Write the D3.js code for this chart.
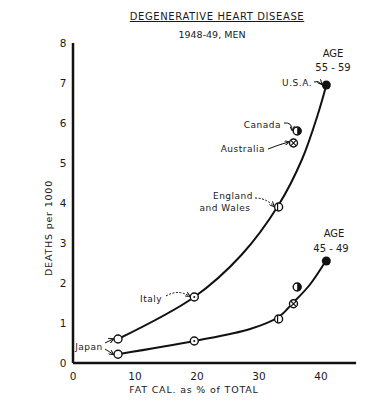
<!DOCTYPE html>
<html>
<head>
<meta charset="utf-8">
<script src="https://cdn.jsdelivr.net/npm/d3@7"></script>
<style>
  body { margin: 0; background: #fff; }
  svg text { font-family: 'DejaVu Sans', sans-serif; fill: #1a1a1a; }
</style>
</head>
<body>
<svg id="chart"></svg>
<script>
// countries and fat calories as % of total
const countries = ['Japan', 'Italy', 'England and Wales', 'Australia', 'Canada', 'U.S.A.'];
const fatPct = [7.1, 19.4, 33.0, 35.4, 36.0, 40.7];
const deaths5559 = [0.6, 1.65, 3.9, 5.5, 5.8, 6.95];
const deaths4549 = [0.22, 0.55, 1.1, 1.48, 1.9, 2.55];
const markers = ['open', 'dot', 'bar', 'cross', 'half', 'filled'];

// hand-drawn fitted curves (knots)
const curve5559 = [[7.1, 0.6], [19.4, 1.65], [27.0, 2.7], [33.0, 3.95], [36.8, 5.1], [39.3, 6.2], [40.7, 6.95]];
const curve4549 = [[7.1, 0.22], [19.4, 0.55], [28.4, 0.85], [33.0, 1.15], [35.3, 1.5], [38.0, 1.95], [40.6, 2.55]];

const xTicks = [0, 10, 20, 30, 40];
const yTicks = [0, 1, 2, 3, 4, 5, 6, 7, 8];

const width = 392, height = 400;
const svg = d3.select('#chart').attr('width', width).attr('height', height);

const x = d3.scaleLinear().domain([0, 40]).range([74, 322]);
const y = d3.scaleLinear().domain([0, 8]).range([363, 43]);

// axes
svg.append('line')
    .attr('x1', x(0) - 1).attr('x2', x(45.5))
    .attr('y1', y(0)).attr('y2', y(0))
    .attr('stroke', '#111').attr('stroke-width', 2.5);
svg.append('line')
    .attr('x1', x(0) - 1).attr('x2', x(0) - 1)
    .attr('y1', y(0)).attr('y2', y(8))
    .attr('stroke', '#111').attr('stroke-width', 2.5);

svg.append('g').selectAll('text')
    .data(xTicks)
    .enter()
    .append('text')
        .attr('x', d => x(d) - 1)
        .attr('y', y(0) + 17)
        .attr('text-anchor', 'middle')
        .style('font-size', '10.5px')
        .text(d => d);

svg.append('g').selectAll('text')
    .data(yTicks)
    .enter()
    .append('text')
        .attr('x', x(0) - 11)
        .attr('y', d => y(d) + 4)
        .attr('text-anchor', 'middle')
        .style('font-size', '10.5px')
        .text(d => d);

// titles
svg.append('text')
    .attr('x', 217).attr('y', 20)
    .attr('text-anchor', 'middle')
    .style('font-size', '10px')
    .style('letter-spacing', '0.6px')
    .style('text-decoration', 'underline')
    .text('DEGENERATIVE HEART DISEASE');
svg.append('text')
    .attr('x', 212).attr('y', 38)
    .attr('text-anchor', 'middle')
    .style('font-size', '9.5px')
    .text('1948-49, MEN');

svg.append('text')
    .attr('x', 194).attr('y', 393)
    .attr('text-anchor', 'middle')
    .style('font-size', '9.5px')
    .style('letter-spacing', '0.8px')
    .text('FAT  CAL. as % of  TOTAL');
svg.append('text')
    .attr('transform', 'translate(52,228) rotate(-90)')
    .attr('text-anchor', 'middle')
    .style('font-size', '9.5px')
    .style('letter-spacing', '0.8px')
    .text('DEATHS  per  1000');

// age labels
[['AGE', 333, 57], ['55 - 59', 333, 71], ['AGE', 334, 237], ['45 - 49', 331, 252]].forEach(([t, tx, ty]) => {
    svg.append('text')
        .attr('x', tx).attr('y', ty)
        .attr('text-anchor', 'middle')
        .style('font-size', '10px')
        .text(t);
});

// fitted curves
const line = d3.line()
    .x(d => x(d[0]))
    .y(d => y(d[1]))
    .curve(d3.curveCatmullRom.alpha(0.5));

[curve5559, curve4549].forEach(c => {
    svg.append('path')
        .attr('d', line(c))
        .attr('fill', 'none')
        .attr('stroke', '#111')
        .attr('stroke-width', 2);
});

// markers
function drawMarker(g, kind, cx, cy) {
    const r = 4;
    if (kind === 'filled') {
        g.append('circle').attr('cx', cx).attr('cy', cy).attr('r', r + 0.5).attr('fill', '#111');
        return;
    }
    g.append('circle').attr('cx', cx).attr('cy', cy).attr('r', r)
        .attr('fill', '#fff').attr('stroke', '#111').attr('stroke-width', 1.4);
    if (kind === 'dot') {
        g.append('circle').attr('cx', cx).attr('cy', cy).attr('r', 1).attr('fill', '#111');
    } else if (kind === 'bar') {
        g.append('line').attr('x1', cx - 1).attr('x2', cx - 1).attr('y1', cy - r).attr('y2', cy + r)
            .attr('stroke', '#111').attr('stroke-width', 1.2);
    } else if (kind === 'cross') {
        const k = r * 0.7;
        g.append('path').attr('d', `M${cx - k},${cy - k}L${cx + k},${cy + k}M${cx - k},${cy + k}L${cx + k},${cy - k}`)
            .attr('stroke', '#111').attr('stroke-width', 1.1);
    } else if (kind === 'half') {
        g.append('path').attr('d', `M${cx},${cy - r}A${r},${r} 0 0 1 ${cx},${cy + r}Z`).attr('fill', '#111');
    }
}

const pts = svg.append('g').attr('class', 'points');
countries.forEach((c, i) => {
    drawMarker(pts, markers[i], x(fatPct[i]), y(deaths5559[i]));
    drawMarker(pts, markers[i], x(fatPct[i]), y(deaths4549[i]));
});

// country labels with little arrows
const labels = [
    { lines: ['U.S.A.'], x: 312, y: 86, anchor: 'end' },
    { lines: ['Canada'], x: 281, y: 128, anchor: 'end' },
    { lines: ['Australia'], x: 265, y: 152, anchor: 'end' },
    { lines: ['England', 'and  Wales'], x: 233, y: 199, anchor: 'middle' },
    { lines: ['Italy'], x: 151, y: 302, anchor: 'middle' },
    { lines: ['Japan'], x: 89, y: 350, anchor: 'middle' }
];
labels.forEach(l => {
    l.lines.forEach((t, j) => {
        svg.append('text')
            .attr('x', l.anchor === 'middle' && j === 1 ? l.x - 8 : l.x)
            .attr('y', l.y + j * 12)
            .attr('text-anchor', l.anchor)
            .style('font-size', '9px')
            .style('letter-spacing', '0.5px')
            .text(t);
    });
});

const arrowIdx = [5, 4, 3, 2, 1];
const arrowFrom = [[314, 82], [284, 123], [268, 149], [255, 198], [166, 296]];
const arrowBend = [[318, 80], [292, 122], [278, 145], [266, 198], [178, 289]];
svg.append('defs').append('marker')
    .attr('id', 'ah').attr('viewBox', '0 0 6 6').attr('refX', 5).attr('refY', 3)
    .attr('markerWidth', 5).attr('markerHeight', 5).attr('orient', 'auto')
    .append('path').attr('d', 'M0,0L6,3L0,6').attr('fill', 'none').attr('stroke', '#111').attr('stroke-width', 1.2);

arrowIdx.forEach((i, k) => {
    const tx = x(fatPct[i]) - 5, ty = y(deaths5559[i]) - 1;
    const [fx, fy] = arrowFrom[k];
    const [bx, by] = arrowBend[k];
    svg.append('path')
        .attr('d', `M${fx},${fy}Q${bx},${by} ${tx},${ty}`)
        .attr('fill', 'none').attr('stroke', '#111').attr('stroke-width', 1)
        .attr('stroke-dasharray', i === 1 || i === 2 ? '2,1.5' : null)
        .attr('marker-end', 'url(#ah)');
});
// Japan points to both curves
[[deaths5559[0], 105, 343], [deaths4549[0], 105, 349]].forEach(([d, fx, fy]) => {
    svg.append('path')
        .attr('d', `M${fx},${fy}L${x(fatPct[0]) - 5},${y(d)}`)
        .attr('fill', 'none').attr('stroke', '#111').attr('stroke-width', 1)
        .attr('marker-end', 'url(#ah)');
});
</script>
</body>
</html>
